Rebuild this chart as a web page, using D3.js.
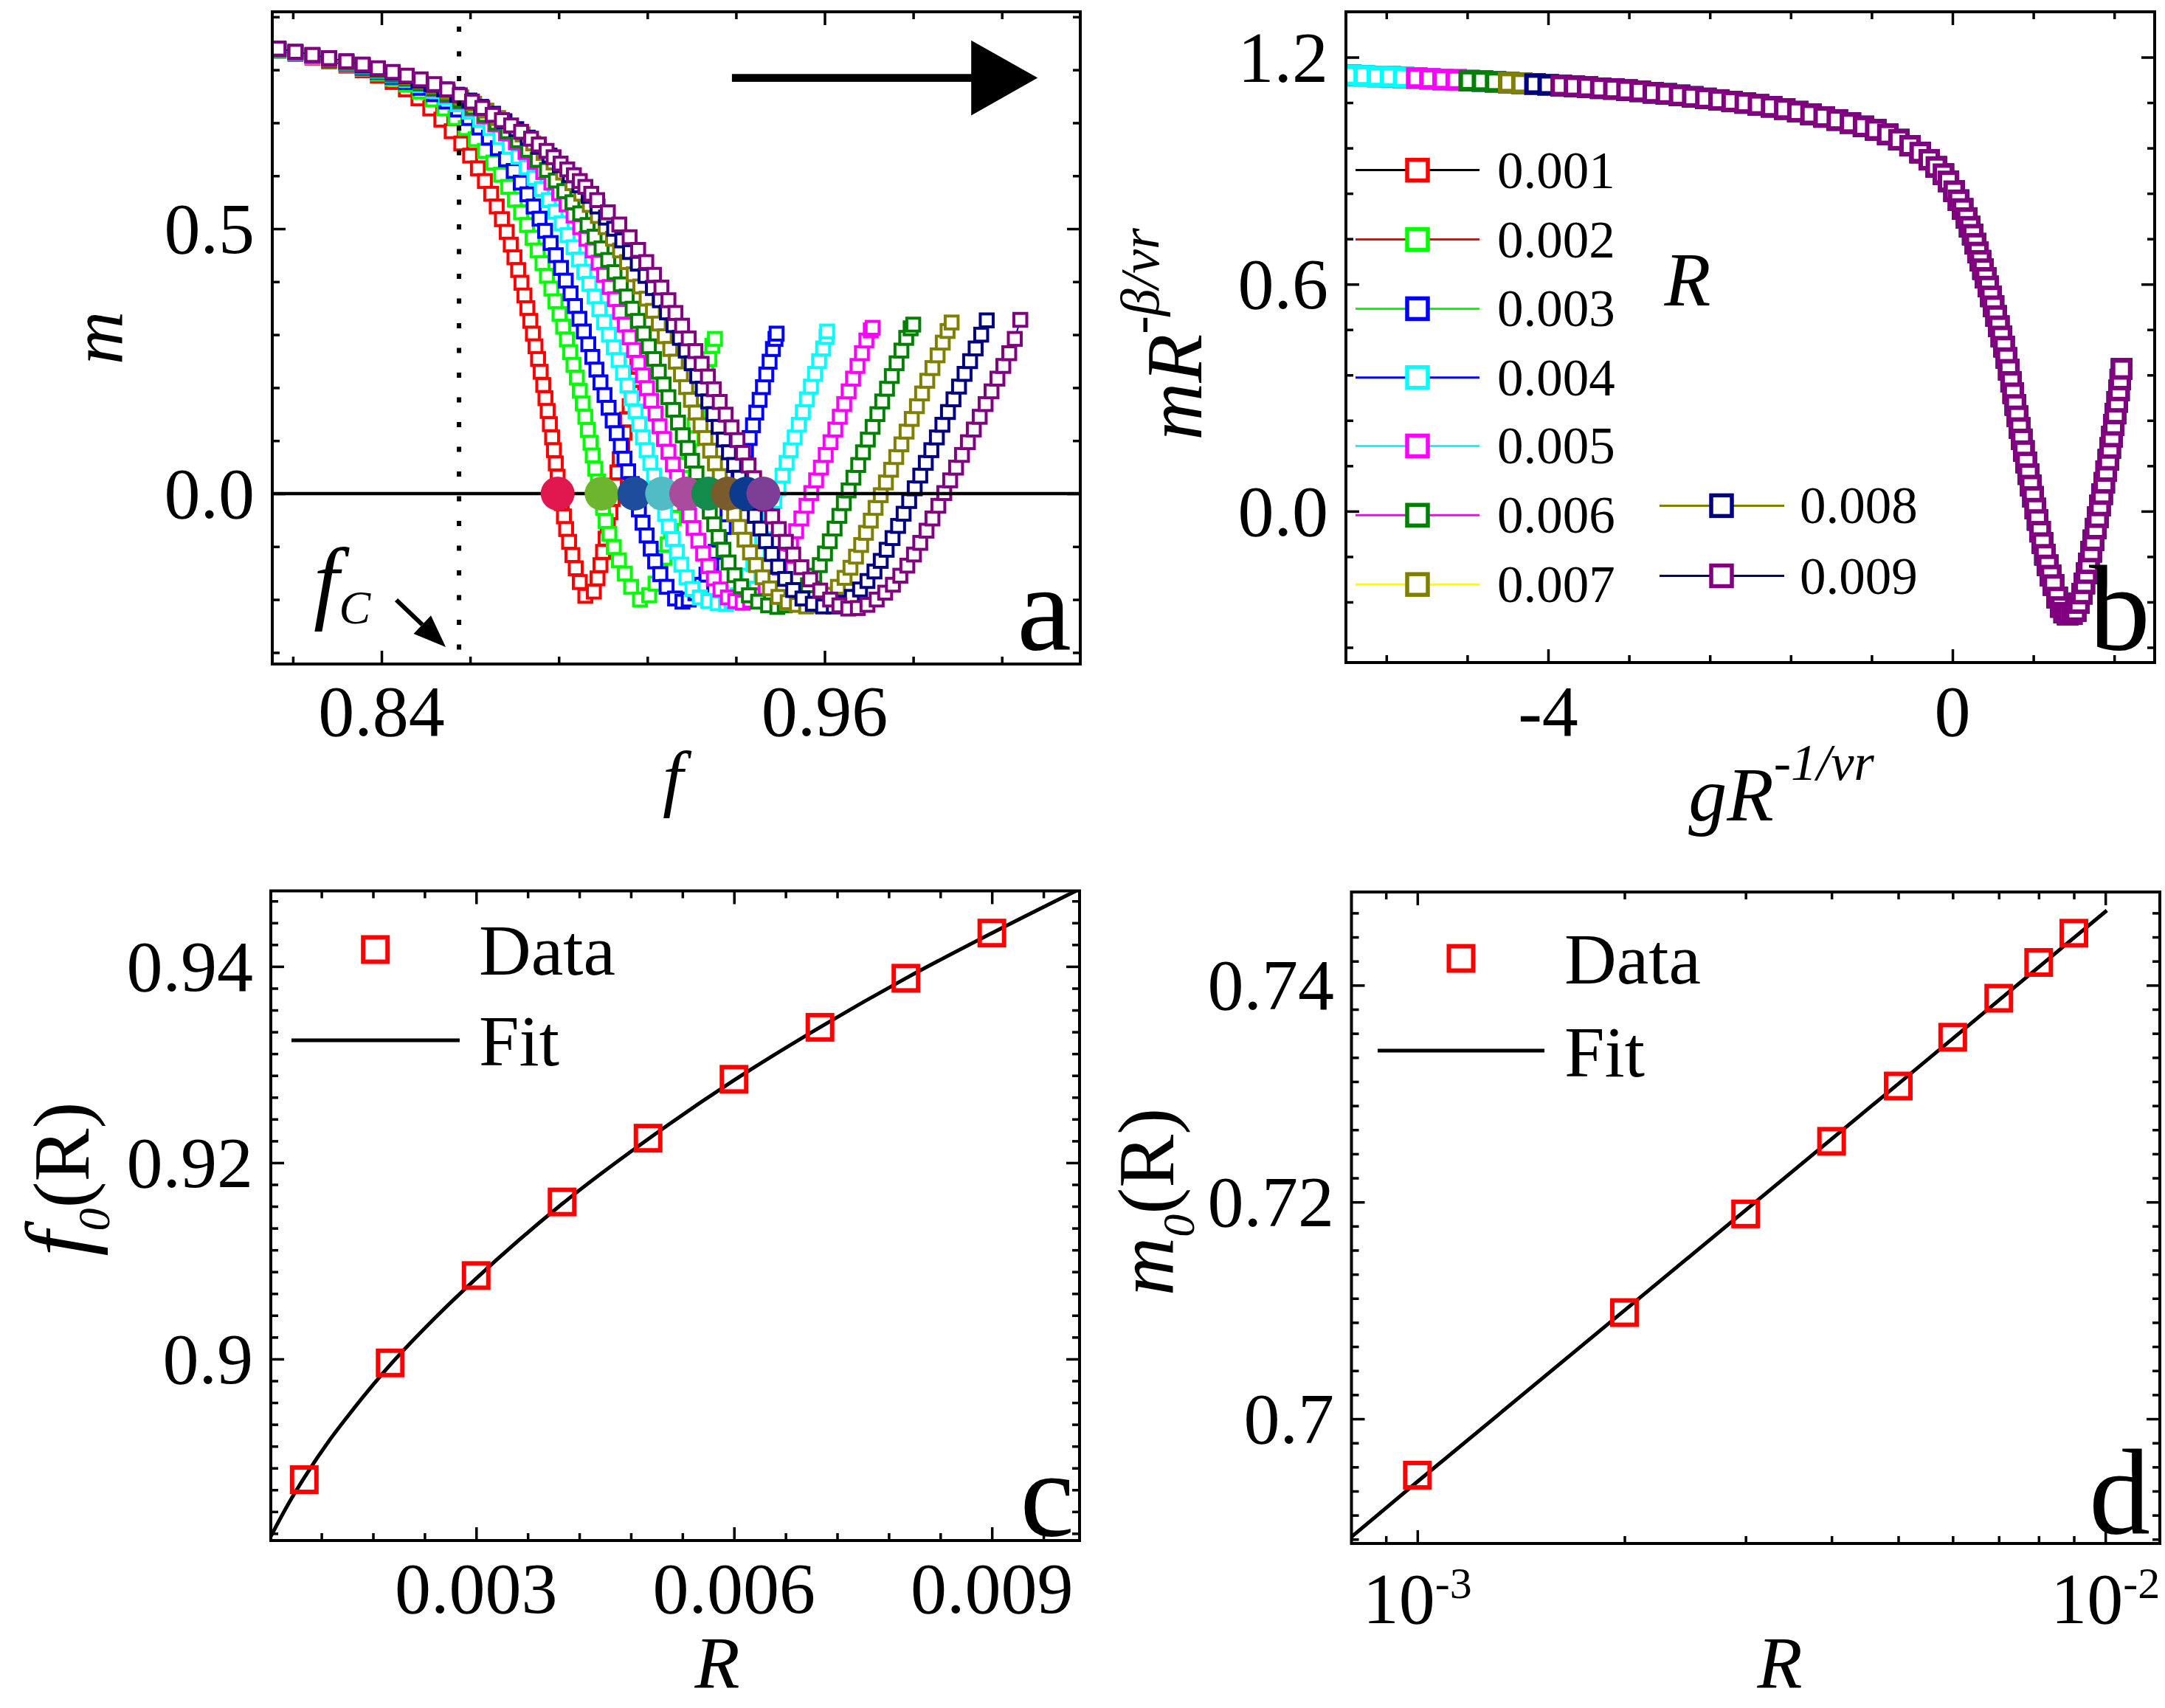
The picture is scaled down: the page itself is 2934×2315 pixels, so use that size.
<!DOCTYPE html>
<html><head><meta charset="utf-8">
<script src="https://cdn.jsdelivr.net/npm/d3@7"></script>
<style>html,body{margin:0;padding:0;background:#fff;}svg{display:block}</style>
</head><body>
<svg id="chart" width="2934" height="2315" xmlns="http://www.w3.org/2000/svg"></svg>
<script>
// ---------------- DATA ----------------
const rValues = [0.001,0.002,0.003,0.004,0.005,0.006,0.007,0.008,0.009];
const rLabels = ['0.001','0.002','0.003','0.004','0.005','0.006','0.007','0.008','0.009'];
const markerColors = ['#ff0000','#00ff00','#0000ff','#00ffff','#ff00ff','#008000','#808000','#000080','#800080'];
const lineColors   = ['#000000','#ff0000','#00ff00','#0000ff','#00ffff','#ff00ff','#ffff00','#808000','#000080'];
const dotColors    = ['#e1174f','#6db52f','#1e4e9b','#52bcc5','#a84c9b','#138c4b','#7a5b2b','#0b3a8f','#7c3f95'];

// panel a: m versus f, one array of [f, m] per R
const curveR1 = [[0.8121,0.836],[0.8167,0.830],[0.8213,0.823],[0.8258,0.816],[0.8305,0.808],[0.8349,0.799],[0.8390,0.789],[0.8430,0.777],[0.8466,0.763],[0.8500,0.746],[0.8532,0.727],[0.8562,0.706],[0.8590,0.684],[0.8616,0.661],[0.8640,0.638],[0.8661,0.614],[0.8680,0.590],[0.8697,0.566],[0.8712,0.542],[0.8726,0.518],[0.8739,0.494],[0.8750,0.470],[0.8760,0.446],[0.8770,0.422],[0.8779,0.398],[0.8787,0.374],[0.8795,0.350],[0.8803,0.326],[0.8810,0.302],[0.8817,0.278],[0.8824,0.254],[0.8831,0.230],[0.8838,0.205],[0.8844,0.180],[0.8850,0.156],[0.8856,0.131],[0.8862,0.106],[0.8867,0.082],[0.8872,0.057],[0.8877,0.032],[0.8882,0.007],[0.8888,-0.018],[0.8894,-0.043],[0.8900,-0.067],[0.8908,-0.091],[0.8917,-0.116],[0.8926,-0.141],[0.8937,-0.167],[0.8952,-0.193],[0.8975,-0.185],[0.8985,-0.160],[0.8993,-0.135],[0.9000,-0.110],[0.9007,-0.085],[0.9013,-0.060],[0.9020,-0.035],[0.9026,-0.010],[0.9032,0.015],[0.9039,0.040],[0.9045,0.065],[0.9052,0.090],[0.9058,0.115],[0.9065,0.140],[0.9072,0.165],[0.9079,0.190],[0.9086,0.215],[0.9093,0.240],[0.9100,0.265],[0.9106,0.285]];
const curveR2 = [[0.8121,0.837],[0.8167,0.831],[0.8213,0.824],[0.8258,0.818],[0.8305,0.810],[0.8349,0.802],[0.8390,0.793],[0.8430,0.783],[0.8468,0.772],[0.8504,0.759],[0.8538,0.744],[0.8570,0.727],[0.8600,0.709],[0.8628,0.690],[0.8655,0.669],[0.8680,0.647],[0.8703,0.625],[0.8724,0.602],[0.8743,0.579],[0.8761,0.555],[0.8778,0.531],[0.8794,0.507],[0.8809,0.483],[0.8823,0.459],[0.8836,0.435],[0.8848,0.411],[0.8860,0.387],[0.8871,0.363],[0.8882,0.339],[0.8892,0.315],[0.8902,0.291],[0.8911,0.267],[0.8920,0.243],[0.8929,0.219],[0.8937,0.194],[0.8945,0.170],[0.8952,0.145],[0.8959,0.120],[0.8966,0.096],[0.8972,0.072],[0.8979,0.047],[0.8986,0.023],[0.8993,-0.002],[0.9000,-0.027],[0.9007,-0.052],[0.9017,-0.076],[0.9029,-0.101],[0.9043,-0.126],[0.9059,-0.151],[0.9076,-0.176],[0.9100,-0.200],[0.9125,-0.192],[0.9142,-0.170],[0.9155,-0.146],[0.9166,-0.121],[0.9175,-0.096],[0.9184,-0.071],[0.9192,-0.046],[0.9200,-0.021],[0.9208,0.004],[0.9216,0.029],[0.9224,0.054],[0.9232,0.079],[0.9240,0.104],[0.9248,0.129],[0.9256,0.154],[0.9264,0.179],[0.9272,0.204],[0.9280,0.229],[0.9288,0.254],[0.9296,0.279],[0.9303,0.292]];
const curveR3 = [[0.8121,0.838],[0.8167,0.832],[0.8213,0.826],[0.8258,0.819],[0.8305,0.812],[0.8349,0.804],[0.8390,0.796],[0.8430,0.787],[0.8468,0.777],[0.8506,0.766],[0.8542,0.754],[0.8576,0.740],[0.8607,0.725],[0.8637,0.709],[0.8665,0.691],[0.8691,0.672],[0.8715,0.652],[0.8737,0.631],[0.8758,0.609],[0.8777,0.587],[0.8795,0.565],[0.8812,0.542],[0.8828,0.519],[0.8843,0.496],[0.8858,0.473],[0.8872,0.450],[0.8886,0.426],[0.8899,0.402],[0.8912,0.378],[0.8924,0.354],[0.8936,0.330],[0.8948,0.306],[0.8960,0.282],[0.8971,0.258],[0.8982,0.234],[0.8993,0.210],[0.9004,0.186],[0.9015,0.162],[0.9026,0.138],[0.9037,0.114],[0.9048,0.090],[0.9058,0.066],[0.9068,0.042],[0.9078,0.018],[0.9088,-0.006],[0.9097,-0.030],[0.9107,-0.055],[0.9118,-0.079],[0.9129,-0.104],[0.9141,-0.128],[0.9155,-0.152],[0.9172,-0.176],[0.9195,-0.198],[0.9215,-0.204],[0.9232,-0.200],[0.9250,-0.188],[0.9266,-0.172],[0.9280,-0.153],[0.9293,-0.132],[0.9305,-0.110],[0.9316,-0.087],[0.9327,-0.063],[0.9337,-0.039],[0.9347,-0.015],[0.9357,0.009],[0.9367,0.033],[0.9377,0.057],[0.9387,0.081],[0.9397,0.105],[0.9406,0.129],[0.9415,0.153],[0.9424,0.177],[0.9433,0.201],[0.9442,0.225],[0.9451,0.249],[0.9460,0.273],[0.9467,0.292],[0.9470,0.302]];
const curveR4 = [[0.8121,0.838],[0.8167,0.832],[0.8213,0.826],[0.8258,0.820],[0.8305,0.813],[0.8349,0.806],[0.8390,0.798],[0.8430,0.790],[0.8468,0.781],[0.8505,0.771],[0.8541,0.760],[0.8575,0.748],[0.8607,0.735],[0.8638,0.721],[0.8667,0.706],[0.8695,0.690],[0.8722,0.673],[0.8747,0.655],[0.8771,0.636],[0.8793,0.616],[0.8814,0.596],[0.8834,0.575],[0.8853,0.554],[0.8871,0.532],[0.8888,0.510],[0.8904,0.488],[0.8920,0.465],[0.8935,0.442],[0.8949,0.419],[0.8963,0.396],[0.8977,0.372],[0.8990,0.348],[0.9003,0.324],[0.9016,0.300],[0.9029,0.276],[0.9042,0.252],[0.9054,0.228],[0.9066,0.204],[0.9077,0.180],[0.9088,0.155],[0.9098,0.131],[0.9108,0.106],[0.9118,0.082],[0.9128,0.058],[0.9138,0.034],[0.9148,0.010],[0.9158,-0.014],[0.9168,-0.038],[0.9178,-0.062],[0.9189,-0.086],[0.9200,-0.110],[0.9212,-0.134],[0.9226,-0.158],[0.9242,-0.180],[0.9262,-0.196],[0.9285,-0.203],[0.9310,-0.207],[0.9333,-0.208],[0.9348,-0.204],[0.9365,-0.192],[0.9380,-0.175],[0.9394,-0.155],[0.9407,-0.133],[0.9419,-0.110],[0.9431,-0.086],[0.9442,-0.062],[0.9453,-0.038],[0.9464,-0.014],[0.9475,0.010],[0.9486,0.034],[0.9497,0.058],[0.9508,0.082],[0.9519,0.106],[0.9530,0.130],[0.9541,0.154],[0.9552,0.178],[0.9563,0.202],[0.9574,0.226],[0.9585,0.250],[0.9596,0.274],[0.9605,0.296],[0.9607,0.306]];
const curveR5 = [[0.8121,0.838],[0.8167,0.832],[0.8213,0.826],[0.8258,0.820],[0.8305,0.814],[0.8349,0.807],[0.8390,0.799],[0.8430,0.791],[0.8468,0.783],[0.8506,0.774],[0.8542,0.764],[0.8578,0.752],[0.8613,0.740],[0.8646,0.727],[0.8678,0.712],[0.8708,0.697],[0.8737,0.680],[0.8764,0.663],[0.8790,0.645],[0.8815,0.626],[0.8838,0.607],[0.8860,0.587],[0.8881,0.567],[0.8901,0.546],[0.8920,0.525],[0.8938,0.503],[0.8955,0.481],[0.8972,0.459],[0.8988,0.436],[0.9003,0.413],[0.9018,0.390],[0.9032,0.367],[0.9046,0.343],[0.9059,0.319],[0.9072,0.295],[0.9084,0.271],[0.9096,0.247],[0.9108,0.223],[0.9119,0.199],[0.9130,0.175],[0.9142,0.151],[0.9153,0.127],[0.9165,0.103],[0.9177,0.079],[0.9189,0.055],[0.9200,0.031],[0.9211,0.007],[0.9222,-0.017],[0.9233,-0.041],[0.9245,-0.065],[0.9258,-0.089],[0.9271,-0.113],[0.9285,-0.137],[0.9300,-0.160],[0.9318,-0.181],[0.9338,-0.196],[0.9358,-0.203],[0.9378,-0.206],[0.9398,-0.202],[0.9418,-0.192],[0.9440,-0.178],[0.9460,-0.160],[0.9478,-0.140],[0.9494,-0.118],[0.9509,-0.095],[0.9523,-0.071],[0.9537,-0.047],[0.9551,-0.023],[0.9564,0.001],[0.9577,0.025],[0.9590,0.049],[0.9603,0.073],[0.9616,0.097],[0.9629,0.121],[0.9641,0.145],[0.9653,0.169],[0.9665,0.193],[0.9677,0.217],[0.9689,0.241],[0.9701,0.265],[0.9713,0.289],[0.9725,0.308],[0.9730,0.313]];
const curveR6 = [[0.8121,0.839],[0.8167,0.833],[0.8213,0.827],[0.8258,0.821],[0.8305,0.814],[0.8349,0.807],[0.8390,0.800],[0.8430,0.792],[0.8468,0.784],[0.8506,0.775],[0.8543,0.765],[0.8579,0.754],[0.8614,0.742],[0.8648,0.729],[0.8680,0.715],[0.8711,0.700],[0.8741,0.684],[0.8770,0.667],[0.8797,0.649],[0.8823,0.630],[0.8848,0.611],[0.8872,0.591],[0.8895,0.571],[0.8917,0.550],[0.8938,0.529],[0.8958,0.507],[0.8977,0.485],[0.8996,0.463],[0.9014,0.441],[0.9031,0.418],[0.9048,0.395],[0.9064,0.372],[0.9080,0.349],[0.9095,0.326],[0.9110,0.302],[0.9124,0.278],[0.9138,0.254],[0.9151,0.230],[0.9164,0.206],[0.9177,0.182],[0.9190,0.158],[0.9203,0.134],[0.9216,0.110],[0.9229,0.086],[0.9241,0.062],[0.9253,0.038],[0.9265,0.014],[0.9277,-0.010],[0.9289,-0.034],[0.9301,-0.058],[0.9313,-0.082],[0.9326,-0.106],[0.9340,-0.130],[0.9356,-0.154],[0.9374,-0.175],[0.9395,-0.192],[0.9420,-0.204],[0.9447,-0.211],[0.9472,-0.214],[0.9492,-0.211],[0.9515,-0.202],[0.9536,-0.189],[0.9555,-0.173],[0.9572,-0.155],[0.9587,-0.135],[0.9601,-0.113],[0.9614,-0.090],[0.9627,-0.066],[0.9640,-0.042],[0.9652,-0.018],[0.9665,0.006],[0.9678,0.030],[0.9691,0.054],[0.9704,0.078],[0.9717,0.102],[0.9730,0.126],[0.9743,0.150],[0.9756,0.174],[0.9769,0.198],[0.9782,0.222],[0.9795,0.246],[0.9808,0.270],[0.9821,0.294],[0.9833,0.312],[0.9840,0.319]];
const curveR7 = [[0.8121,0.839],[0.8167,0.833],[0.8213,0.827],[0.8258,0.821],[0.8305,0.815],[0.8349,0.808],[0.8390,0.801],[0.8430,0.794],[0.8468,0.786],[0.8506,0.778],[0.8543,0.769],[0.8580,0.759],[0.8616,0.748],[0.8651,0.736],[0.8684,0.723],[0.8716,0.709],[0.8750,0.694],[0.8782,0.678],[0.8811,0.661],[0.8839,0.643],[0.8866,0.625],[0.8892,0.606],[0.8917,0.586],[0.8941,0.566],[0.8964,0.545],[0.8986,0.524],[0.9007,0.503],[0.9027,0.481],[0.9046,0.459],[0.9065,0.437],[0.9083,0.414],[0.9101,0.391],[0.9118,0.368],[0.9135,0.345],[0.9151,0.321],[0.9167,0.297],[0.9182,0.273],[0.9197,0.249],[0.9211,0.225],[0.9225,0.201],[0.9238,0.177],[0.9251,0.153],[0.9264,0.129],[0.9277,0.105],[0.9290,0.081],[0.9303,0.057],[0.9316,0.033],[0.9329,0.009],[0.9342,-0.015],[0.9355,-0.039],[0.9369,-0.063],[0.9383,-0.087],[0.9398,-0.111],[0.9414,-0.135],[0.9432,-0.158],[0.9452,-0.179],[0.9475,-0.195],[0.9500,-0.205],[0.9525,-0.210],[0.9550,-0.213],[0.9572,-0.211],[0.9595,-0.203],[0.9616,-0.191],[0.9636,-0.176],[0.9654,-0.159],[0.9670,-0.140],[0.9685,-0.119],[0.9699,-0.097],[0.9712,-0.074],[0.9725,-0.051],[0.9738,-0.027],[0.9752,-0.003],[0.9766,0.021],[0.9780,0.045],[0.9794,0.069],[0.9808,0.093],[0.9822,0.117],[0.9836,0.141],[0.9850,0.165],[0.9864,0.189],[0.9878,0.213],[0.9892,0.237],[0.9906,0.261],[0.9920,0.285],[0.9933,0.307],[0.9944,0.323]];
const curveR8 = [[0.8121,0.840],[0.8167,0.834],[0.8213,0.828],[0.8258,0.822],[0.8305,0.816],[0.8349,0.809],[0.8390,0.802],[0.8430,0.795],[0.8468,0.788],[0.8500,0.780],[0.8535,0.772],[0.8570,0.763],[0.8605,0.753],[0.8638,0.742],[0.8670,0.730],[0.8702,0.717],[0.8733,0.703],[0.8765,0.688],[0.8796,0.672],[0.8826,0.655],[0.8855,0.638],[0.8883,0.620],[0.8910,0.601],[0.8936,0.582],[0.8961,0.562],[0.8985,0.542],[0.9008,0.521],[0.9030,0.500],[0.9052,0.478],[0.9073,0.456],[0.9094,0.434],[0.9115,0.411],[0.9135,0.388],[0.9154,0.365],[0.9173,0.342],[0.9191,0.318],[0.9208,0.294],[0.9224,0.270],[0.9240,0.246],[0.9255,0.222],[0.9270,0.198],[0.9285,0.174],[0.9299,0.150],[0.9313,0.126],[0.9327,0.102],[0.9341,0.078],[0.9355,0.054],[0.9369,0.030],[0.9383,0.006],[0.9397,-0.018],[0.9411,-0.042],[0.9426,-0.066],[0.9441,-0.090],[0.9457,-0.114],[0.9474,-0.138],[0.9493,-0.161],[0.9515,-0.182],[0.9540,-0.198],[0.9568,-0.208],[0.9596,-0.213],[0.9625,-0.213],[0.9650,-0.206],[0.9674,-0.195],[0.9696,-0.181],[0.9716,-0.165],[0.9735,-0.147],[0.9752,-0.127],[0.9768,-0.106],[0.9784,-0.084],[0.9799,-0.061],[0.9814,-0.038],[0.9829,-0.014],[0.9844,0.010],[0.9859,0.034],[0.9874,0.058],[0.9889,0.082],[0.9904,0.106],[0.9919,0.130],[0.9934,0.154],[0.9949,0.178],[0.9964,0.202],[0.9979,0.226],[0.9994,0.250],[1.0009,0.274],[1.0024,0.300],[1.0039,0.327]];
const curveR9 = [[0.8121,0.840],[0.8167,0.834],[0.8213,0.828],[0.8258,0.822],[0.8305,0.816],[0.8349,0.810],[0.8390,0.803],[0.8430,0.796],[0.8468,0.789],[0.8506,0.782],[0.8543,0.773],[0.8578,0.763],[0.8612,0.752],[0.8645,0.740],[0.8673,0.728],[0.8701,0.715],[0.8726,0.705],[0.8751,0.695],[0.8778,0.683],[0.8805,0.670],[0.8826,0.659],[0.8847,0.647],[0.8866,0.635],[0.8885,0.623],[0.8903,0.612],[0.8921,0.601],[0.8937,0.590],[0.8952,0.579],[0.8968,0.566],[0.8984,0.554],[0.9013,0.531],[0.9044,0.508],[0.9072,0.484],[0.9095,0.460],[0.9117,0.437],[0.9138,0.413],[0.9158,0.389],[0.9177,0.365],[0.9196,0.341],[0.9214,0.317],[0.9232,0.293],[0.9250,0.269],[0.9267,0.245],[0.9284,0.221],[0.9300,0.197],[0.9316,0.173],[0.9332,0.149],[0.9348,0.125],[0.9364,0.101],[0.9379,0.077],[0.9394,0.053],[0.9409,0.029],[0.9424,0.005],[0.9440,-0.019],[0.9458,-0.043],[0.9476,-0.067],[0.9495,-0.091],[0.9515,-0.115],[0.9537,-0.139],[0.9561,-0.162],[0.9588,-0.183],[0.9615,-0.200],[0.9640,-0.211],[0.9664,-0.217],[0.9690,-0.216],[0.9716,-0.210],[0.9741,-0.200],[0.9764,-0.187],[0.9785,-0.172],[0.9805,-0.155],[0.9824,-0.136],[0.9842,-0.115],[0.9859,-0.093],[0.9876,-0.070],[0.9892,-0.047],[0.9908,-0.023],[0.9924,0.001],[0.9940,0.025],[0.9956,0.049],[0.9972,0.073],[0.9988,0.097],[1.0004,0.121],[1.0020,0.145],[1.0036,0.169],[1.0052,0.193],[1.0068,0.217],[1.0084,0.241],[1.0100,0.265],[1.0115,0.292],[1.0130,0.328]];
const curvesA = [curveR1,curveR2,curveR3,curveR4,curveR5,curveR6,curveR7,curveR8,curveR9];
const fCritical = 0.861;              // dotted line f_C

// panel b: collapsed curve (scaled variables) and the left end of each R series
const bX = [-5.95,-5.82,-5.69,-5.56,-5.43,-5.30,-5.17,-5.04,-4.91,-4.78,-4.65,-4.52,-4.39,-4.26,-4.13,-4.00,-3.87,-3.74,-3.61,-3.48,-3.35,-3.22,-3.09,-2.96,-2.83,-2.70,-2.57,-2.44,-2.31,-2.18,-2.05,-1.92,-1.79,-1.66,-1.53,-1.40,-1.27,-1.14,-1.01,-0.88,-0.76,-0.64,-0.53,-0.42,-0.32,-0.23,-0.16,-0.09,-0.04,0.016,0.06,0.10,0.14,0.17,0.20,0.227,0.252,0.277,0.302,0.328,0.354,0.380,0.406,0.432,0.458,0.484,0.510,0.534,0.557,0.580,0.601,0.622,0.643,0.664,0.685,0.706,0.729,0.752,0.774,0.797,0.820,0.842,0.866,0.890,0.915,0.942,0.970,0.999,1.035,1.072,1.105,1.14,1.18,1.218,1.25,1.281,1.304,1.327,1.349,1.372,1.394,1.417,1.438,1.459,1.48,1.501,1.521,1.542,1.560,1.578,1.595,1.612,1.630,1.647,1.660,1.673];
const bY = [1.152,1.151,1.149,1.148,1.146,1.145,1.143,1.141,1.140,1.138,1.137,1.135,1.133,1.131,1.129,1.127,1.125,1.123,1.121,1.118,1.116,1.113,1.110,1.106,1.103,1.099,1.095,1.091,1.087,1.083,1.079,1.074,1.069,1.063,1.056,1.049,1.042,1.034,1.026,1.017,1.008,0.996,0.982,0.966,0.948,0.929,0.910,0.891,0.872,0.846,0.822,0.799,0.775,0.752,0.731,0.707,0.684,0.662,0.640,0.617,0.594,0.568,0.542,0.516,0.489,0.462,0.435,0.405,0.374,0.342,0.312,0.281,0.251,0.220,0.190,0.159,0.129,0.098,0.068,0.038,0.007,-0.023,-0.054,-0.084,-0.115,-0.143,-0.170,-0.195,-0.228,-0.253,-0.268,-0.273,-0.272,-0.264,-0.243,-0.218,-0.191,-0.164,-0.138,-0.107,-0.077,-0.046,-0.016,0.015,0.045,0.075,0.106,0.136,0.167,0.197,0.228,0.258,0.289,0.319,0.348,0.376];
const bStart = [-12,-9,-7,-6.1,-5.35,-4.85,-4.45,-4.2,-3.98];

// panel c: f0(R)
const f0Values = [0.8877,0.8996,0.9085,0.9160,0.9225,0.9285,0.9338,0.9388,0.9434];
const f0FitR = [0.00061,0.0007,0.0008,0.001,0.0013,0.0015,0.002,0.0025,0.003,0.004,0.005,0.006,0.007,0.008,0.009,0.01];
const f0FitF = [0.8819,0.8834,0.8850,0.8879,0.8918,0.8941,0.8994,0.9040,0.9082,0.9158,0.9224,0.9284,0.9338,0.9388,0.9434,0.9478];

// panel d: m0(R)
const m0Values = [0.6948,0.7098,0.7189,0.7256,0.7307,0.7352,0.7388,0.7421,0.7448];
const m0FitR = [0.000802,0.001,0.002,0.005,0.01005];
const m0FitM = [0.6891,0.6942,0.7100,0.7309,0.7469];

// tick labels
const aXTicks = [0.84,0.96], aXLabels = ['0.84','0.96'];
const aYTicks = [0.0,0.5],   aYLabels = ['0.0','0.5'];
const bXTicks = [-4,0],      bXLabels = ['-4','0'];
const bYTicks = [0,0.6,1.2], bYLabels = ['0.0','0.6','1.2'];
const cXTicks = [0.003,0.006,0.009], cXLabels = ['0.003','0.006','0.009'];
const cYTicks = [0.90,0.92,0.94], cYLabels = ['0.9','0.92','0.94'];
const dXTicks = [0.001,0.01], dXExp = ['-3','-2'];
const dYTicks = [0.70,0.72,0.74], dYLabels = ['0.7','0.72','0.74'];

// ---------------- DRAWING ----------------
const FF = "'Liberation Serif','Times New Roman',Times,serif";
const svg = d3.select('#chart');
svg.append('rect').attr('width',2934).attr('height',2315).attr('fill','#fff');
const defs = svg.append('defs');

function makePanel(id, box){
  defs.append('clipPath').attr('id','clip'+id).append('rect')
    .attr('x',box.l).attr('y',box.t).attr('width',box.r-box.l).attr('height',box.b-box.t);
  const g = svg.append('g');
  const data = g.append('g').attr('clip-path','url(#clip'+id+')');
  return {g, data};
}
function inRange(vals, scale){
  const d = scale.domain(), lo=Math.min(d[0],d[1]), hi=Math.max(d[0],d[1]);
  return vals.filter(v => v>lo && v<hi && Math.abs(scale(v)-scale(lo))>4 && Math.abs(scale(v)-scale(hi))>4);
}
function axes(g, box, xs, ys, xMaj, xMin, yMaj, yMin){
  const MAJ=18, MIN=10;
  const add = (fn, scale, vals, len, tx, ty) => {
    const a = fn(scale).tickValues(inRange(vals,scale)).tickSize(-len).tickFormat('');
    const gg = g.append('g').attr('transform',`translate(${tx},${ty})`).call(a);
    gg.select('.domain').remove();
    gg.selectAll('.tick text').remove();
    gg.selectAll('.tick line').attr('stroke','#000').attr('stroke-width',3.5);
  };
  add(d3.axisBottom, xs, xMaj, MAJ, 0, box.b); add(d3.axisBottom, xs, xMin, MIN, 0, box.b);
  add(d3.axisTop, xs, xMaj, MAJ, 0, box.t);    add(d3.axisTop, xs, xMin, MIN, 0, box.t);
  add(d3.axisLeft, ys, yMaj, MAJ, box.l, 0);   add(d3.axisLeft, ys, yMin, MIN, box.l, 0);
  add(d3.axisRight, ys, yMaj, MAJ, box.r, 0);  add(d3.axisRight, ys, yMin, MIN, box.r, 0);
  g.append('rect').attr('x',box.l).attr('y',box.t).attr('width',box.r-box.l).attr('height',box.b-box.t)
    .attr('fill','none').attr('stroke','#000').attr('stroke-width',4);
}
function rich(g, x, y, parts, anchor, rot){
  const t = g.append('text').attr('font-family',FF).attr('fill','#000').attr('text-anchor',anchor||'start');
  if (rot) t.attr('transform',`translate(${x},${y}) rotate(${rot})`); else t.attr('x',x).attr('y',y);
  parts.forEach(p => {
    const ts = t.append('tspan').text(p.t).attr('font-size',p.s);
    if (p.i) ts.attr('font-style','italic');
    if (p.dy) ts.attr('dy',p.dy);
  });
  return t;
}
function squares(g, pts, xs, ys, size, sw, color, fill){
  g.append('g').selectAll('rect').data(pts).enter().append('rect')
    .attr('x', d => xs(d[0]) - size/2).attr('y', d => ys(d[1]) - size/2)
    .attr('width', size).attr('height', size)
    .attr('fill', fill || '#fff').attr('stroke', color).attr('stroke-width', sw);
}
function polyline(g, pts, xs, ys, color, w, curve){
  const line = d3.line().x(d => xs(d[0])).y(d => ys(d[1]));
  if (curve) line.curve(curve);
  g.append('path').datum(pts).attr('d', line).attr('fill','none').attr('stroke',color).attr('stroke-width',w);
}
const TICK = 98;

// ===== Panel a =====
const boxA = {l:369, r:1464, t:16, b:900};
const xA = d3.scaleLinear().domain([0.81042,1.02924]).range([boxA.l,boxA.r]);
const yA = d3.scaleLinear().domain([-0.3217,0.9095]).range([boxA.b,boxA.t]);
const pA = makePanel('A', boxA);
curvesA.forEach((c,i) => {
  polyline(pA.data, c, xA, yA, lineColors[i], 2);
  squares(pA.data, c, xA, yA, 17.5, 4, markerColors[i]);
});
pA.data.append('line').attr('x1',xA(xA.domain()[0])).attr('x2',xA(xA.domain()[1]))
  .attr('y1',yA(0)).attr('y2',yA(0)).attr('stroke','#000').attr('stroke-width',4.5);
pA.data.append('g').selectAll('circle').data(f0Values).enter().append('circle')
  .attr('cx', d => xA(d)).attr('cy', yA(0)).attr('r', 23).attr('fill', (d,i) => dotColors[i]);
pA.data.append('line').attr('x1',xA(fCritical)).attr('x2',xA(fCritical))
  .attr('y1',yA(yA.domain()[1])+20).attr('y2',yA(yA.domain()[0]))
  .attr('stroke','#000').attr('stroke-width',6).attr('stroke-dasharray','7 26.5');
(function(){
  const y0 = yA(0.7847), x0 = xA(0.9349), xb = xA(0.9997), xt = xA(1.0177), hh = yA(0.7847-0.071)-y0;
  pA.g.append('rect').attr('x',x0).attr('y',y0-5.3).attr('width',xb-x0+4).attr('height',10.6).attr('fill','#000');
  pA.g.append('path').attr('d',`M${xb},${y0-hh}L${xt},${y0}L${xb},${y0+hh}Z`).attr('fill','#000');
})();
rich(pA.g, xA(0.8216), yA(-0.2228), [{t:'f',i:true,s:124},{t:'C',i:true,s:64,dy:16}]);
(function(){
  const x1=xA(0.8440), y1=yA(-0.2006), x2=xA(0.8574), y2=yA(-0.2897);
  const ang = Math.atan2(y2-y1, x2-x1), L=44, Wd=17;
  const bx = x2 - L*Math.cos(ang), by = y2 - L*Math.sin(ang);
  pA.g.append('line').attr('x1',x1).attr('y1',y1).attr('x2',bx).attr('y2',by).attr('stroke','#000').attr('stroke-width',6);
  pA.g.append('path').attr('d',`M${x2},${y2}L${bx - Wd*Math.sin(ang)},${by + Wd*Math.cos(ang)}L${bx + Wd*Math.sin(ang)},${by - Wd*Math.cos(ang)}Z`).attr('fill','#000');
})();
axes(pA.g, boxA, xA, yA, aXTicks, d3.range(0.816,1.02,0.024).filter(v=>Math.abs(v-0.84)>1e-6&&Math.abs(v-0.96)>1e-6),
     aYTicks, [-0.3,-0.2,-0.1,0.1,0.2,0.3,0.4,0.6,0.7,0.8,0.9]);
aXTicks.forEach((v,i)=> rich(pA.g, xA(v), 997, [{t:aXLabels[i],s:TICK}], 'middle'));
aYTicks.forEach((v,i)=> rich(pA.g, 345, yA(v)+33, [{t:aYLabels[i],s:TICK}], 'end'));
rich(pA.g, 912, 1088, [{t:'f',i:true,s:100}], 'middle');
rich(pA.g, 165, 458, [{t:'m',i:true,s:100}], 'middle', -90);
rich(pA.g, 1452, 880, [{t:'a',s:166}], 'end');

// ===== Panel b =====
const boxB = {l:1824, r:2920, t:16, b:898};
const xB = d3.scaleLinear().domain([-6,2]).range([boxB.l,boxB.r]);
const yB = d3.scaleLinear().domain([-0.4,1.32]).range([boxB.b,boxB.t]);
const pB = makePanel('B', boxB);
const bPoints = bX.map((x,i)=>[x,bY[i]]);
rValues.forEach((r,i) => {
  const pts = bPoints.filter(p => p[0] >= bStart[i]);
  polyline(pB.data, pts, xB, yB, lineColors[i], 2.5);
  squares(pB.data, pts, xB, yB, 23, 6, markerColors[i]);
});
axes(pB.g, boxB, xB, yB, bXTicks, [-5.6,-4.8,-3.2,-2.4,-1.6,-0.8,0.8,1.6],
     bYTicks, [-0.36,-0.24,-0.12,0.12,0.24,0.36,0.48,0.72,0.84,0.96,1.08]);
bXTicks.forEach((v,i)=> rich(pB.g, xB(v), 997, [{t:bXLabels[i],s:TICK}], 'middle'));
bYTicks.forEach((v,i)=> rich(pB.g, 1800, yB(v)+33, [{t:bYLabels[i],s:TICK}], 'end'));
rich(pB.g, 2414, 1112, [{t:'g',i:true,s:104},{t:'R',i:true,s:104},{t:'-1/νr',i:true,s:70,dy:-55}], 'middle');
rich(pB.g, 1628, 453, [{t:'m',i:true,s:108},{t:'R',i:true,s:108},{t:'-β/νr',i:true,s:74,dy:-58}], 'middle', -90);
rich(pB.g, 2914, 880, [{t:'b',s:166}], 'end');
(function(){
  const col = [{x1:1837,x2:2005,mx:1921,tx:2029},{x1:2249,x2:2418,mx:2333,tx:2439}];
  const rows = [230.6,324.5,418.4,511.7,604.4,698.3,792.2,685.4,780.5];
  rValues.forEach((r,i)=>{
    const c = col[i<7?0:1], y = rows[i];
    pB.g.append('line').attr('x1',c.x1).attr('x2',c.x2).attr('y1',y).attr('y2',y).attr('stroke',lineColors[i]).attr('stroke-width',3);
    pB.g.append('rect').attr('x',c.mx-14).attr('y',y-14).attr('width',28).attr('height',28).attr('fill','#fff').attr('stroke',markerColors[i]).attr('stroke-width',5.5);
    rich(pB.g, c.tx, y+24, [{t:rLabels[i],s:71}]);
  });
  rich(pB.g, 2287, 414, [{t:'R',i:true,s:103}], 'middle');
})();

// ===== Panel c =====
const boxC = {l:367, r:1463, t:1207.5, b:2088};
const xC = d3.scaleLinear().domain([0.000611,0.01002]).range([boxC.l,boxC.r]);
const yC = d3.scaleLinear().domain([0.8815,0.9477]).range([boxC.b,boxC.t]);
const pC = makePanel('C', boxC);
polyline(pC.data, f0FitR.map((r,i)=>[r,f0FitF[i]]), xC, yC, '#000', 5, d3.curveMonotoneX);
squares(pC.data, rValues.map((r,i)=>[r,f0Values[i]]), xC, yC, 33, 6, '#ff0000', 'none');
axes(pC.g, boxC, xC, yC, cXTicks, d3.range(1,17).map(k=>k*0.0006).filter(v=>[0.003,0.006,0.009].every(t=>Math.abs(v-t)>1e-7)),
     cYTicks, d3.range(-8,22).filter(k=>k%9!==0).map(k=>0.9+k*0.02/9));
cXTicks.forEach((v,i)=> rich(pC.g, xC(v), 2186, [{t:cXLabels[i],s:TICK}], 'middle'));
cYTicks.forEach((v,i)=> rich(pC.g, 343, yC(v)+33, [{t:cYLabels[i],s:TICK}], 'end'));
rich(pC.g, 972, 2287, [{t:'R',i:true,s:100}], 'middle');
rich(pC.g, 120, 1598, [{t:'f',i:true,s:122},{t:'0',i:true,s:62,dy:28},{t:'(R)',s:108,dy:-28}], 'middle', -90);
rich(pC.g, 1456, 2081, [{t:'c',s:166}], 'end');
pC.g.append('rect').attr('x',508.7-16.5).attr('y',1287-16.5).attr('width',33).attr('height',33).attr('fill','none').attr('stroke','#ff0000').attr('stroke-width',6);
rich(pC.g, 649, 1321, [{t:'Data',s:98}]);
pC.g.append('line').attr('x1',395).attr('x2',623).attr('y1',1410).attr('y2',1410).attr('stroke','#000').attr('stroke-width',5);
rich(pC.g, 649, 1444, [{t:'Fit',s:98}]);

// ===== Panel d =====
const boxD = {l:1831.5, r:2927, t:1209, b:2092};
const xD = d3.scaleLog().domain([0.000802,0.0120]).range([boxD.l,boxD.r]);
const yD = d3.scaleLinear().domain([0.6885,0.7486]).range([boxD.b,boxD.t]);
const pD = makePanel('D', boxD);
polyline(pD.data, m0FitR.map((r,i)=>[r,m0FitM[i]]), xD, yD, '#000', 5);
squares(pD.data, rValues.map((r,i)=>[r,m0Values[i]]), xD, yD, 33, 6, '#ff0000', 'none');
axes(pD.g, boxD, xD, yD, dXTicks, [0.0009,0.002,0.003,0.004,0.005,0.006,0.007,0.008,0.009],
     dYTicks, d3.range(-5,25).filter(k=>k%9!==0).map(k=>0.70+k*0.02/9));
dXTicks.forEach((v,i)=> rich(pD.g, xD(v), 2200, [{t:'10',s:TICK},{t:dXExp[i],s:60,dy:-34}], 'middle'));
dYTicks.forEach((v,i)=> rich(pD.g, 1808, yD(v)+33, [{t:dYLabels[i],s:TICK}], 'end'));
rich(pD.g, 2412, 2287, [{t:'R',i:true,s:100}], 'middle');
rich(pD.g, 1590, 1629, [{t:'m',i:true,s:110},{t:'0',i:true,s:62,dy:28},{t:'(R)',s:108,dy:-28}], 'middle', -90);
rich(pD.g, 2914, 2078, [{t:'d',s:166}], 'end');
pD.g.append('rect').attr('x',1980-16.5).attr('y',1299-16.5).attr('width',33).attr('height',33).attr('fill','none').attr('stroke','#ff0000').attr('stroke-width',6);
rich(pD.g, 2120, 1333, [{t:'Data',s:98}]);
pD.g.append('line').attr('x1',1867).attr('x2',2093).attr('y1',1424).attr('y2',1424).attr('stroke','#000').attr('stroke-width',5);
rich(pD.g, 2120, 1459, [{t:'Fit',s:98}]);
</script>
</body></html>
